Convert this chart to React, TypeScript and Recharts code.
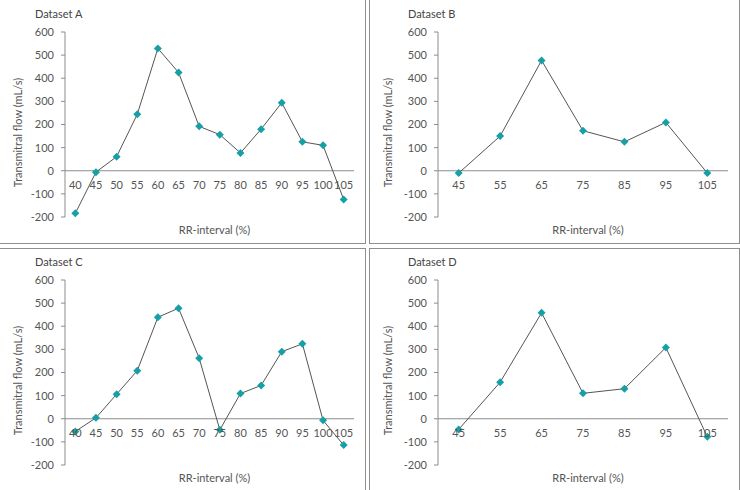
import React from 'react';
import { LineChart, Line, XAxis, YAxis, ReferenceLine } from 'recharts';

// ---------- data ----------
const catsAC = ['40', '45', '50', '55', '60', '65', '70', '75', '80', '85', '90', '95', '100', '105'];
const catsBD = ['45', '55', '65', '75', '85', '95', '105'];
const valsA = [-184, -6, 61, 244, 529, 425, 192, 156, 77, 180, 294, 125, 110, -124];
const valsB = [-10, 150, 477, 173, 125, 209, -10];
const valsC = [-55, 4, 106, 208, 439, 478, 262, -48, 109, 144, 290, 324, -7, -114];
const valsD = [-46, 158, 458, 110, 130, 308, -78];
const yTicks = [-200, -100, 0, 100, 200, 300, 400, 500, 600];
const titles = ['Dataset A', 'Dataset B', 'Dataset C', 'Dataset D'];
const yLabel = 'Transmitral flow (mL/s)';
const xLabel = 'RR-interval (%)';

const Y_MIN = -200;
const Y_MAX = 600;
const FONT = 'Lato, "Open Sans", sans-serif';
const TEXT = '#555';
const AXIS = '#8c8c8c';
const TEAL = '#16a0a6';

const CH = 243;
const MT = 32;
const XH = 26;
const PLOT_H = CH - MT - XH;

const build = (cats: string[], vals: number[]) => cats.map((c, i) => ({ rr: c, v: vals[i] }));

const Diamond = (props: any) => {
  const { cx, cy } = props;
  if (cx == null || cy == null) return null;
  const r = 4;
  return <polygon points={`${cx},${cy - r} ${cx + r},${cy} ${cx},${cy + r} ${cx - r},${cy}`} fill={TEAL} />;
};

const XTick = (props: any) => {
  const { x, y, payload } = props;
  const zeroOffset = (PLOT_H * (0 - Y_MIN)) / (Y_MAX - Y_MIN);
  return (
    <text x={x} y={y - zeroOffset + 18} textAnchor="middle" fontSize={11} fill={TEXT} fontFamily={FONT}>
      {payload.value}
    </text>
  );
};

const YLab = (props: any) => {
  const vb = props.viewBox || {};
  const cx = vb.x + 17;
  const cy = vb.y + vb.height / 2 + 8;
  return (
    <text x={cx} y={cy} transform={`rotate(-90, ${cx}, ${cy})`} textAnchor="middle" dominantBaseline="central" fontSize={11} fill={TEXT} fontFamily={FONT}>
      {yLabel}
    </text>
  );
};

const XLab = (props: any) => {
  const vb = props.viewBox || {};
  return (
    <text x={vb.x + vb.width / 2 + 5} y={vb.y + 17} textAnchor="middle" fontSize={11} fill={TEXT} fontFamily={FONT}>
      {xLabel}
    </text>
  );
};

const Panel = ({ left, top, width, yw, right, cats, vals, title }: any) => {
  const data = build(cats, vals);
  const plotW = width - yw - right;
  const pad = plotW / (2 * cats.length);
  return (
    <div style={{ position: 'absolute', left, top, width, height: CH }}>
      <div style={{ position: 'absolute', left: yw - 30, top: 6, fontFamily: FONT, fontSize: 11, color: '#444', whiteSpace: 'nowrap', lineHeight: '16px' }}>
        {title}
      </div>
      <LineChart width={width} height={CH} data={data} margin={{ top: MT, right, bottom: 0, left: 0 }}>
        <XAxis
          dataKey="rr"
          type="category"
          height={XH}
          axisLine={false}
          tickLine={false}
          tickSize={0}
          tickMargin={0}
          interval={0}
          padding={{ left: pad, right: pad }}
          tick={<XTick />}
          label={<XLab />}
        />
        <YAxis
          type="number"
          domain={[Y_MIN, Y_MAX]}
          ticks={yTicks}
          width={yw}
          interval={0}
          axisLine={{ stroke: AXIS }}
          tickLine={{ stroke: AXIS }}
          tickSize={4}
          tickMargin={7}
          tick={{ fontSize: 11, fill: TEXT, fontFamily: FONT }}
          label={<YLab />}
        />
        <ReferenceLine y={0} stroke={AXIS} strokeWidth={1} />
        <Line
          type="linear"
          dataKey="v"
          stroke="#555"
          strokeWidth={1}
          dot={<Diamond />}
          activeDot={false}
          isAnimationActive={false}
        />
      </LineChart>
    </div>
  );
};

const border = '1px solid #8e8e8e';

export default function App() {
  return (
    <div style={{ position: 'fixed', left: 0, top: 0, width: 740, height: 490, overflow: 'hidden', background: '#fff' }}>
      <div style={{ position: 'absolute', left: -2, top: -2, width: 368, height: 246, boxSizing: 'border-box', border }} />
      <div style={{ position: 'absolute', left: 369, top: -2, width: 371, height: 246, boxSizing: 'border-box', border }} />
      <div style={{ position: 'absolute', left: -2, top: 248, width: 368, height: 250, boxSizing: 'border-box', border }} />
      <div style={{ position: 'absolute', left: 369, top: 248, width: 371, height: 250, boxSizing: 'border-box', border }} />
      <Panel left={0} top={0} width={365} yw={65} right={11} cats={catsAC} vals={valsA} title={titles[0]} />
      <Panel left={370} top={0} width={370} yw={68} right={12} cats={catsBD} vals={valsB} title={titles[1]} />
      <Panel left={0} top={248} width={365} yw={65} right={11} cats={catsAC} vals={valsC} title={titles[2]} />
      <Panel left={370} top={248} width={370} yw={68} right={12} cats={catsBD} vals={valsD} title={titles[3]} />
    </div>
  );
}
